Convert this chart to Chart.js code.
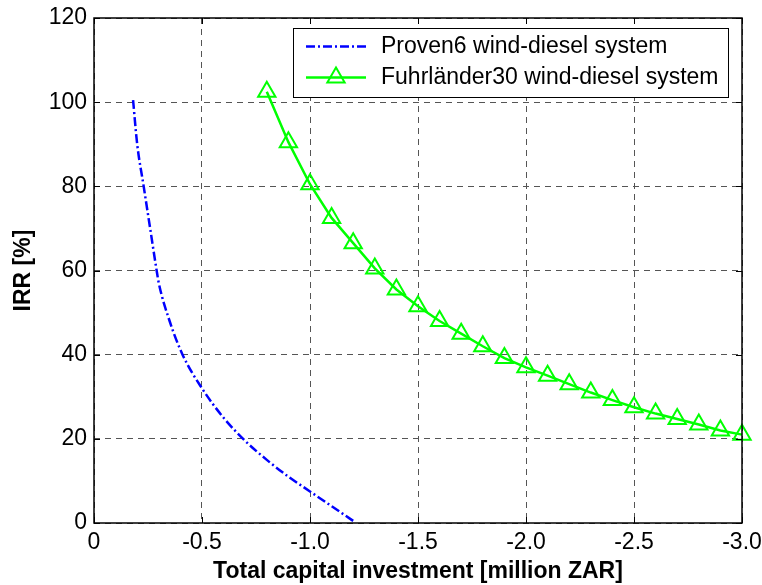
<!DOCTYPE html>
<html lang="en">
<head>
  <meta charset="UTF-8">
  <title>IRR vs total capital investment</title>
  <script src="https://cdn.jsdelivr.net/npm/chart.js"></script>
  <style>
    html, body { margin: 0; padding: 0; background: #fff; }
    #chartContainer { width: 762px; height: 585px; }
  </style>
</head>
<body>
  <div id="chartContainer">
    <canvas id="irrChart"></canvas>
  </div>

  <script>
    // Proven6 curve (dash-dot, no markers)
    const provenX = [-1.2, -1.1, -1.0, -0.9, -0.8, -0.7, -0.6, -0.5, -0.41, -0.35, -0.3, -0.29, -0.26, -0.23, -0.2, -0.18];
    const provenY = [0.5, 4, 7.5, 11, 15, 19.5, 25, 32, 40, 48, 57, 60, 70, 80, 90, 101];

    // Fuhrlaender30 curve (triangle markers every 0.1)
    const fuhrX = [-0.8, -0.9, -1.0, -1.1, -1.2, -1.3, -1.4, -1.5, -1.6, -1.7, -1.8, -1.9, -2.0, -2.1, -2.2, -2.3, -2.4, -2.5, -2.6, -2.7, -2.8, -2.9, -3.0];
    const fuhrY = [102.5, 90.5, 80.5, 72.5, 66.5, 60.5, 55.5, 51.5, 48, 45, 42, 39.2, 37, 35, 33, 31, 29.2, 27.5, 26, 24.7, 23.4, 22, 21];

    const xTickValues = [0, -0.5, -1.0, -1.5, -2.0, -2.5, -3.0];
    const xTickLabels = ['0', '-0.5', '-1.0', '-1.5', '-2.0', '-2.5', '-3.0'];
    const yTickValues = [0, 20, 40, 60, 80, 100, 120];
    const yTickLabels = ['0', '20', '40', '60', '80', '100', '120'];

    const seriesNames = ['Proven6 wind-diesel system', 'Fuhrländer30 wind-diesel system'];

    const FONT = 'Arial, "Liberation Sans", sans-serif';
    const FSIZE = 23;

    // box, inner ticks and legend in MATLAB style
    const matlabFrame = {
      id: 'matlabFrame',
      afterDraw(chart) {
        const { ctx, chartArea: a, scales } = chart;
        ctx.save();
        ctx.strokeStyle = '#000';
        ctx.lineWidth = 1;
        ctx.beginPath();
        xTickValues.forEach(v => {
          const px = Math.round(scales.x.getPixelForValue(v)) + 0.5;
          ctx.moveTo(px, a.bottom); ctx.lineTo(px, a.bottom - 6);
          ctx.moveTo(px, a.top); ctx.lineTo(px, a.top + 6);
        });
        yTickValues.forEach(v => {
          const py = Math.round(scales.y.getPixelForValue(v)) + 0.5;
          ctx.moveTo(a.left, py); ctx.lineTo(a.left + 6, py);
          ctx.moveTo(a.right, py); ctx.lineTo(a.right - 6, py);
        });
        ctx.stroke();
        ctx.lineWidth = 1.5;
        ctx.strokeRect(a.left, a.top, a.right - a.left, a.bottom - a.top);

        // legend
        const lx = 293, ly = 28, lw = 435, lh = 69;
        ctx.fillStyle = '#fff';
        ctx.fillRect(lx, ly, lw, lh);
        ctx.lineWidth = 1;
        ctx.strokeRect(lx + 0.5, ly + 0.5, lw, lh);
        const rows = [46.5, 77.5];
        chart.data.datasets.forEach((ds, i) => {
          const y = rows[i];
          ctx.strokeStyle = ds.borderColor;
          ctx.lineWidth = ds.borderWidth;
          ctx.setLineDash(ds.borderDash || []);
          ctx.beginPath();
          ctx.moveTo(306, y); ctx.lineTo(366, y);
          ctx.stroke();
          ctx.setLineDash([]);
          if (ds.pointRadius > 0) {
            ctx.fillStyle = 'rgba(0,0,0,0)';
            ctx.strokeStyle = ds.pointBorderColor;
            ctx.lineWidth = ds.pointBorderWidth;
            Chart.helpers.drawPoint(ctx, {
              pointStyle: 'triangle', radius: ds.pointRadius, borderWidth: ds.pointBorderWidth
            }, 336, y);
          }
          ctx.fillStyle = '#000';
          ctx.font = FSIZE + 'px ' + FONT;
          ctx.textBaseline = 'middle';
          ctx.textAlign = 'left';
          ctx.fillText(ds.label, 381, y);
        });
        ctx.restore();
      }
    };

    const ctx = document.getElementById('irrChart').getContext('2d');

    new Chart(ctx, {
      type: 'line',
      data: {
        datasets: [{
          label: seriesNames[0],
          data: provenX.map((x, i) => ({ x: x, y: provenY[i] })),
          borderColor: '#0000ff',
          borderWidth: 2.5,
          borderDash: [9, 3, 2, 3],
          pointRadius: 0,
          fill: false,
          cubicInterpolationMode: 'monotone'
        }, {
          label: seriesNames[1],
          data: fuhrX.map((x, i) => ({ x: x, y: fuhrY[i] })),
          borderColor: '#00ff00',
          borderWidth: 2.5,
          pointStyle: 'triangle',
          pointRadius: 10,
          pointBorderWidth: 2,
          pointBackgroundColor: 'rgba(0,0,0,0)',
          pointBorderColor: '#00ff00',
          fill: false,
          clip: false,
          tension: 0
        }]
      },
      options: {
        responsive: true,
        maintainAspectRatio: false,
        animation: false,
        layout: { padding: { top: 18, right: 20, left: 0, bottom: 0 } },
        plugins: {
          legend: { display: false },
          tooltip: { enabled: false }
        },
        scales: {
          x: {
            type: 'linear',
            reverse: true,
            min: -3,
            max: 0,
            afterFit: s => { s.height = 62; s.paddingLeft = 0; s.paddingRight = 0; },
            afterBuildTicks: s => { s.ticks = xTickValues.map(v => ({ value: v })); },
            ticks: {
              padding: 6,
              color: '#000',
              font: { family: FONT, size: FSIZE },
              callback: v => xTickLabels[xTickValues.indexOf(v)]
            },
            grid: { color: '#555', lineWidth: 1, drawTicks: false },
            border: { display: false, dash: [6, 5] },
            title: {
              display: true,
              text: 'Total capital investment [million ZAR]',
              color: '#000',
              font: { family: FONT, size: FSIZE, weight: 'bold' },
              padding: { top: 0, bottom: 0 }
            }
          },
          y: {
            type: 'linear',
            min: 0,
            max: 120,
            afterFit: s => { s.width = 94; s.paddingTop = 0; s.paddingBottom = 0; },
            afterBuildTicks: s => { s.ticks = yTickValues.map(v => ({ value: v })); },
            ticks: {
              padding: 7,
              color: '#000',
              font: { family: FONT, size: FSIZE },
              callback: v => yTickLabels[yTickValues.indexOf(v)]
            },
            grid: { color: '#555', lineWidth: 1, drawTicks: false },
            border: { display: false, dash: [6, 5] },
            title: {
              display: true,
              text: 'IRR [%]',
              color: '#000',
              font: { family: FONT, size: FSIZE, weight: 'bold' },
              padding: { top: 10, bottom: 0 }
            }
          }
        }
      },
      plugins: [matlabFrame]
    });
  </script>
</body>
</html>
